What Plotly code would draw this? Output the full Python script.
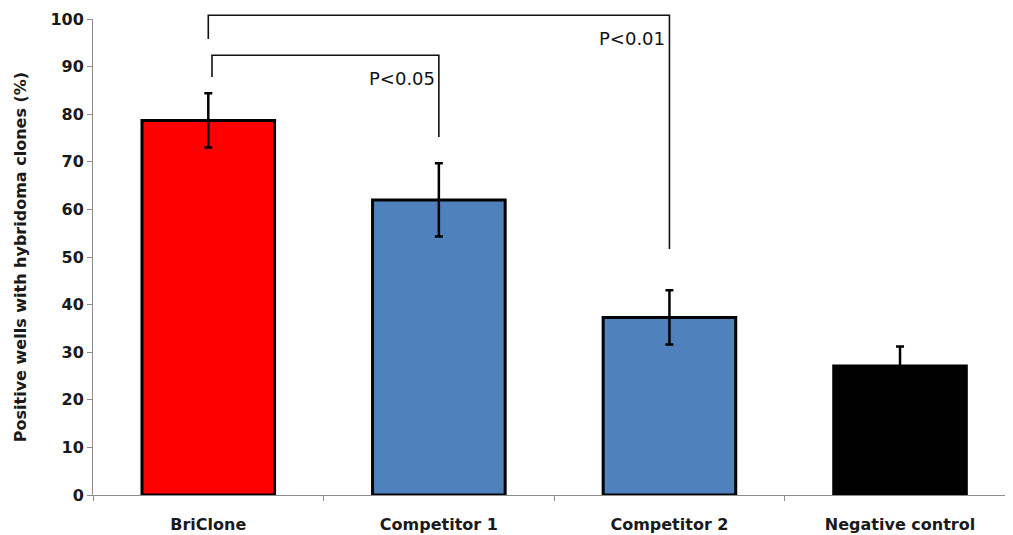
import plotly.graph_objects as go

categories = ["BriClone", "Competitor 1", "Competitor 2", "Negative control"]
values = [78.7, 62.0, 37.3, 27.1]
errors = [5.7, 7.7, 5.7, 4.1]
colors = ["#FF0000", "#4F81BD", "#4F81BD", "#000000"]
y_ticks = [0, 10, 20, 30, 40, 50, 60, 70, 80, 90, 100]

# significance brackets (positions in category index units)
bracket_left = [0.016, 0.0]
bracket_right = [1.0, 2.0]
bracket_level = [92.4, 100.8]
bracket_left_end = [87.8, 95.8]
bracket_right_end = [75.2, 51.7]
bracket_labels = ["P<0.05", "P<0.01"]
label_level = [87.6, 96.0]

Y_MAX = 100
FONT = "DejaVu Sans"

fig = go.Figure()
fig.add_trace(go.Bar(
    x=categories,
    y=values,
    width=0.575,
    marker=dict(color=colors, line=dict(color="black", width=3)),
    error_y=dict(type="data", array=errors, visible=True, color="black",
                 thickness=2.5, width=4),
    showlegend=False,
))

shapes = []
annotations = []
for xl, xr, lv, le, re_, lab, ll in zip(bracket_left, bracket_right, bracket_level,
                                         bracket_left_end, bracket_right_end,
                                         bracket_labels, label_level):
    path = (f"M {xl} {le / Y_MAX} L {xl} {lv / Y_MAX} "
            f"L {xr} {lv / Y_MAX} L {xr} {re_ / Y_MAX}")
    shapes.append(dict(type="path", xref="x", yref="paper", path=path,
                       line=dict(color="#111111", width=1.6)))
    annotations.append(dict(x=xr, y=ll / Y_MAX, xref="x", yref="paper",
                            text=lab, showarrow=False, xanchor="right",
                            yanchor="middle", xshift=-2,
                            font=dict(family=FONT, size=18, color="#111111")))

fig.update_layout(
    width=1005, height=527,
    margin=dict(l=85, r=0, t=11, b=40),
    paper_bgcolor="white", plot_bgcolor="white",
    shapes=shapes, annotations=annotations,
    xaxis=dict(
        type="category", range=[-0.5, 3.49], automargin=False,
        tickson="boundaries", ticks="outside", ticklen=5, tickcolor="#8c8c8c",
        ticklabelstandoff=15,
        showline=True, linecolor="#8c8c8c", linewidth=1,
        showgrid=False, zeroline=False,
        tickfont=dict(family=FONT, size=16, color="#1a1a1a", weight="bold"),
    ),
    yaxis=dict(
        range=[0, Y_MAX], automargin=False,
        tickmode="array", tickvals=y_ticks,
        ticks="outside", ticklen=5, tickcolor="#8c8c8c",
        showline=True, linecolor="#8c8c8c", linewidth=1,
        showgrid=False, zeroline=False,
        tickfont=dict(family=FONT, size=16, color="#1a1a1a", weight="bold"),
        title=dict(text="Positive wells with hybridoma clones (%)", standoff=19,
                   font=dict(family=FONT, size=16, color="#1a1a1a", weight="bold")),
    ),
)

fig.write_html("out.html")
